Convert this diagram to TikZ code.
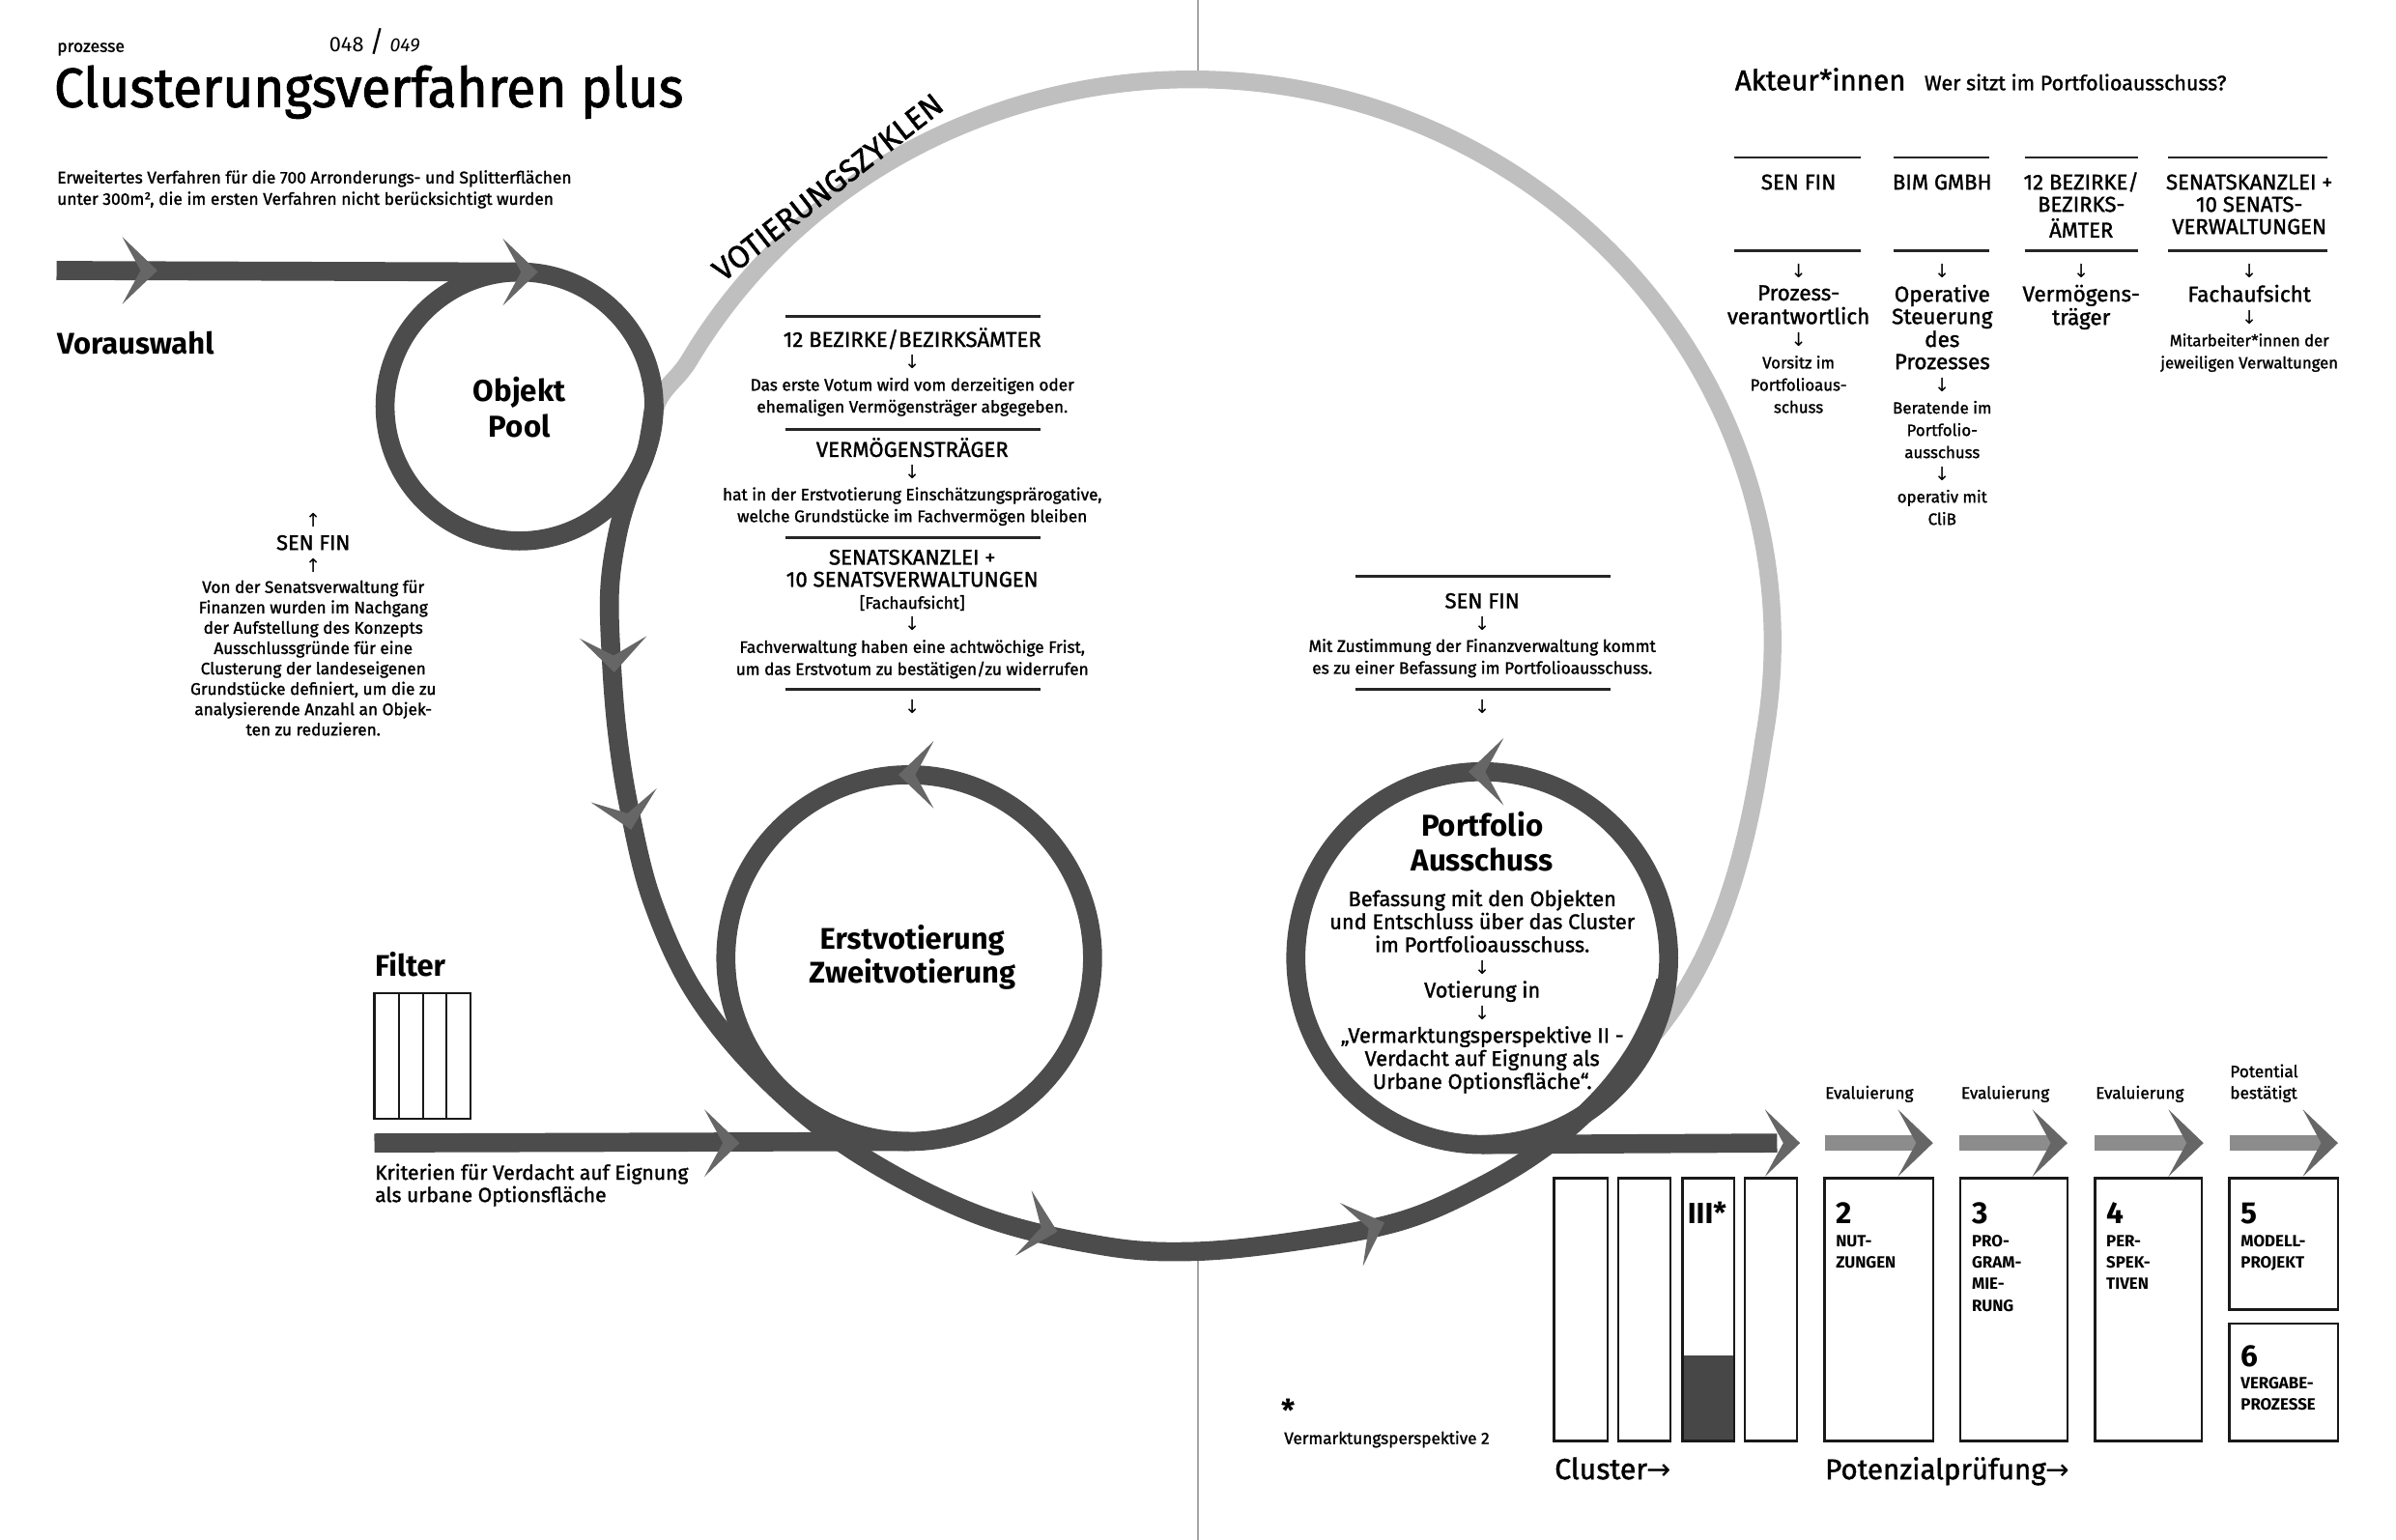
\documentclass[tikz,border=0pt]{standalone}
\usepackage{fontspec}
\setmainfont{Fira Sans}
\newfontfamily\fmed[FakeBold=1.4]{Fira Sans}
\newfontfamily\ftitle[FakeBold=1.6,FakeStretch=0.96]{Fira Sans}
\newfontfamily\dv{DejaVu Sans}
\usetikzlibrary{calc}
\newcommand{\fs}[2]{\fontsize{#1pt}{#2pt}\selectfont}
\newcommand{\tb}[2]{\begin{tabular}[t]{@{}#1@{}}#2\end{tabular}}
\newcommand{\dn}{{\dv\fontsize{5.5}{5.5}\selectfont ↓}}
\newcommand{\up}{{\dv\fontsize{5.5}{5.5}\selectfont ↑}}
\newcommand{\rarr}{{\dv →}}
\newcommand{\ahd}[3][ahead]{\fill[#1,shift={(#2)},rotate=#3] (0,0) -- (-23,-22) -- (-11,0) -- (-23,22) -- cycle;}
\begin{document}
\begin{tikzpicture}[x=0.015816cm,y=-0.015816cm,
  dark/.style={draw=black!70,line width=5.6pt},
  light/.style={draw=black!25,line width=5.2pt},
  ahead/.style={fill=black!60},
  sshaft/.style={draw=black!45,line width=4.4pt},
  rulel/.style={draw=black!85,line width=0.75pt},
  boxl/.style={draw=black!90,line width=0.65pt},
  gutter/.style={draw=black!35,line width=0.4pt},
  txt/.style={inner sep=0pt,anchor=base},
  txtl/.style={inner sep=0pt,anchor=base west}]
\fill[white] (0,0) rectangle (1568,1007.8);
\useasboundingbox (0,0) rectangle (1568,1007.8);
\draw[gutter] (784,0) -- (784,47);
\draw[gutter] (784,824) -- (784,1007.8);

% light ring (Votierungszyklen)
\draw[light] (428,272) to[out=84,in=239] ($(780,420)+(210:380 and 368)$)
  arc[start angle=210,end angle=370,x radius=380,y radius=368]
  .. controls (1143,560) and (1125,625) .. (1083,676);
\node[txt,rotate=38] (votz) at (546,128) {\fmed\fs{9.2}{9.2}VOTIERUNGSZYKLEN};

% dark paths
\draw[dark] (37,177) -- (340,178);
\draw[dark] (340,266) circle[radius=88];
\draw[dark] plot[smooth,tension=0.6] coordinates {(428,266) (422.7,296.1) (412,322) (404,350) (399,386) (400,430) (404,480) (412,530) (427,590) (455,650) (500,705) (560,754) (640,795) (720,815) (780,819) (850,812) (917,799) (970,776) (1012,750) (1045,721) (1068,692) (1083,663) (1090,642)};
\draw[dark] (595,627) circle[radius=120];
\draw[dark] (245,748) -- (595,747);
\draw[dark] (970,627) circle[radius=122];
\draw[dark] (970,749) -- (1163,748);

% arrowheads
\ahd{103,177}{0}
\ahd{352,178}{0}
\ahd{402,440}{-88}
\ahd{413,543}{-78}
\ahd{692,806}{-14}
\ahd{906,800}{20}
\ahd{484,748}{0}
\ahd{588,507}{180}
\ahd{961,505}{180}
\ahd{1178,748}{0}
\foreach \a/\b in {1194/1265,1282/1353,1371/1442,1459/1530}{
  \draw[sshaft] (\a,748) -- (\b-10,748);
  \ahd{\b,748}{0}
}

% cluster boxes
\fill[black!72] (1101,887) rectangle (1135,943);
\foreach \a/\b in {1017/1052,1059/1093,1101/1135,1142/1176}{
  \draw[boxl] (\a,771) rectangle (\b,943);
}
\draw[boxl] (1194,771) rectangle (1265,943);
\draw[boxl] (1283,771) rectangle (1353,943);
\draw[boxl] (1371,771) rectangle (1441,943);
\draw[boxl] (1459,771) rectangle (1530,857);
\draw[boxl] (1459,866) rectangle (1530,943);

% filter box
\draw[boxl] (245,650) rectangle (308,732);
\foreach \x in {261,277,292}{\draw[boxl] (\x,650) -- (\x,732);}

% rules
\foreach \y in {207,281,352,451}{\draw[rulel] (514,\y) -- (681,\y);}
\foreach \y in {377,451}{\draw[rulel] (887,\y) -- (1054,\y);}
\foreach \y in {103,164}{
  \draw[rulel] (1135,\y) -- (1218,\y);
  \draw[rulel] (1239,\y) -- (1302,\y);
  \draw[rulel] (1325,\y) -- (1399,\y);
  \draw[rulel] (1419,\y) -- (1523,\y);
}

% header
\node[txtl] (proz) at (37,34) {\fmed\fs{5}{6}prozesse};
\node[txtl] (pg) at (215,34) {\fs{6.2}{7}048 {\fs{8.5}{9}/} {\itshape\fs{5.6}{6}049}};
\node[txtl] (title) at (35,70) {\ftitle\fs{16.3}{18}Clusterungsverfahren plus};
\node[txtl] (sub) at (37,120) {\fmed\fs{4.95}{6.3}\tb{l}{Erweitertes Verfahren für die 700 Arronderungs- und Splitterflächen\\unter 300m², die im ersten Verfahren nicht berücksichtigt wurden}};
\node[txtl] (vor) at (37,232) {\bfseries\fs{8.8}{10}Vorauswahl};
\node[txt] (objekt) at (340,263) {\bfseries\fs{8.9}{10.4}\tb{c}{Objekt\\Pool}};

% left SEN FIN block
\node[txt] (lsen) at (205,345) {\fmed\fs{6.2}{6.7}\tb{c}{\up\\SEN FIN\\\up}};
\node[txt] (lpar) at (205,388) {\fmed\fs{4.9}{6}\tb{c}{Von der Senatsverwaltung für\\Finanzen wurden im Nachgang\\der Aufstellung des Konzepts\\Ausschlussgründe für eine\\Clusterung der landeseigenen\\Grundstücke definiert, um die zu\\analysierende Anzahl an Objek-\\ten zu reduzieren.}};

% middle block
\node[txt] (m1) at (597,227) {\fmed\fs{6.3}{6.45}\tb{c}{12 BEZIRKE/BEZIRKSÄMTER\\\dn\\{\fs{4.9}{6}Das erste Votum wird vom derzeitigen oder}\\{\fs{4.9}{6}ehemaligen Vermögensträger abgegeben.}}};
\node[txt] (m2) at (597,299) {\fmed\fs{6.3}{6.4}\tb{c}{VERMÖGENSTRÄGER\\\dn\\{\fs{4.9}{6}hat in der Erstvotierung Einschätzungsprärogative,}\\{\fs{4.9}{6}welche Grundstücke im Fachvermögen bleiben}}};
\node[txt] (m3) at (597,369.5) {\fmed\fs{6.3}{6.5}\tb{c}{SENATSKANZLEI +\\10 SENATSVERWALTUNGEN\\{\fs{4.9}{6}[Fachaufsicht]}\\\dn\\{\fs{4.9}{6}Fachverwaltung haben eine achtwöchige Frist,}\\{\fs{4.9}{6}um das Erstvotum zu bestätigen/zu widerrufen}}};
\node[txt] (m4) at (597,467) {\dn};

% portfolio block
\node[txt] (p1) at (970,398) {\fmed\fs{6.3}{6.45}\tb{c}{SEN FIN\\\dn\\{\fs{4.95}{6}Mit Zustimmung der Finanzverwaltung kommt}\\{\fs{4.95}{6}es zu einer Befassung im Portfolioausschuss.}}};
\node[txt] (p2) at (970,467) {\dn};

% circle labels
\node[txt] (erst) at (597,621) {\bfseries\fs{8.8}{10}\tb{c}{Erstvotierung\\Zweitvotierung}};
\node[txt] (port) at (970,547) {\bfseries\fs{8.9}{10.4}\tb{c}{Portfolio\\Ausschuss}};
\node[txt] (portb) at (970,593) {\fmed\fs{6.2}{6.55}\tb{c}{Befassung mit den Objekten\\und Entschluss über das Cluster\\im Portfolioausschuss.\\\dn\\Votierung in\\\dn\\„Vermarktungsperspektive II -\\Verdacht auf Eignung als\\Urbane Optionsfläche“.}};

% Akteur*innen
\node[txtl] (akt) at (1135,59) {\fmed\fs{8.4}{10}Akteur*innen};
\node[txtl] (wer) at (1259,59) {\fmed\fs{6.1}{7}Wer sitzt im Portfolioausschuss?};
\node[txt] (c1h) at (1177,124) {\fmed\fs{6.3}{6.55}\tb{c}{SEN FIN}};
\node[txt] (c2h) at (1271,124) {\fmed\fs{6.3}{6.55}\tb{c}{BIM GMBH}};
\node[txt] (c3h) at (1362,124) {\fmed\fs{6.3}{6.55}\tb{c}{12 BEZIRKE/\\BEZIRKS-\\ÄMTER}};
\node[txt] (c4h) at (1472,124) {\fmed\fs{6.3}{6.55}\tb{c}{SENATSKANZLEI +\\10 SENATS-\\VERWALTUNGEN}};
\node[txt] (c1d) at (1177,182) {\fmed\fs{6.4}{6.55}\tb{c}{\dn\\Prozess-\\verantwortlich\\\dn\\{\fs{4.8}{6}Vorsitz im}\\{\fs{4.8}{6}Portfolioaus-}\\{\fs{4.8}{6}schuss}}};
\node[txt] (c2d) at (1271,182) {\fmed\fs{6.4}{6.55}\tb{c}{\dn\\Operative\\Steuerung\\des\\Prozesses\\\dn\\{\fs{4.8}{6}Beratende im}\\{\fs{4.8}{6}Portfolio-}\\{\fs{4.8}{6}ausschuss}\\\dn\\{\fs{4.8}{6}operativ mit}\\{\fs{4.8}{6}CliB}}};
\node[txt] (c3d) at (1362,182) {\fmed\fs{6.4}{6.55}\tb{c}{\dn\\Vermögens-\\träger}};
\node[txt] (c4d) at (1472,182) {\fmed\fs{6.4}{6.55}\tb{c}{\dn\\Fachaufsicht\\\dn\\{\fs{4.75}{6}Mitarbeiter*innen der}\\{\fs{4.75}{6}jeweiligen Verwaltungen}}};

% filter
\node[txtl] (filt) at (245,639) {\bfseries\fs{8.8}{10}Filter};
\node[txtl] (krit) at (245,772) {\fmed\fs{6}{6.3}\tb{l}{Kriterien für Verdacht auf Eignung\\als urbane Optionsfläche}};

% cluster / potenzial labels
\node[txtl] (b3) at (1104,801) {\bfseries\fs{8.6}{9}III*};
\node[txtl] (n2) at (1201,801) {\bfseries\fs{9}{9}2};
\node[txtl] (t2) at (1201,816) {\bfseries\fs{4.8}{6.3}\tb{l}{NUT-\\ZUNGEN}};
\node[txtl] (n3) at (1290,801) {\bfseries\fs{9}{9}3};
\node[txtl] (t3) at (1290,816) {\bfseries\fs{4.8}{6.3}\tb{l}{PRO-\\GRAM-\\MIE-\\RUNG}};
\node[txtl] (n4) at (1378,801) {\bfseries\fs{9}{9}4};
\node[txtl] (t4) at (1378,816) {\bfseries\fs{4.8}{6.3}\tb{l}{PER-\\SPEK-\\TIVEN}};
\node[txtl] (n5) at (1466,801) {\bfseries\fs{9}{9}5};
\node[txtl] (t5) at (1466,816) {\bfseries\fs{4.8}{6.3}\tb{l}{MODELL-\\PROJEKT}};
\node[txtl] (n6) at (1466,894) {\bfseries\fs{9}{9}6};
\node[txtl] (t6) at (1466,909) {\bfseries\fs{4.8}{6.3}\tb{l}{VERGABE-\\PROZESSE}};
\node[txtl] (ev1) at (1194,719) {\fmed\fs{4.9}{6}Evaluierung};
\node[txtl] (ev2) at (1283,719) {\fmed\fs{4.9}{6}Evaluierung};
\node[txtl] (ev3) at (1371,719) {\fmed\fs{4.9}{6}Evaluierung};
\node[txtl] (pot) at (1459,705) {\fmed\fs{4.9}{6.3}\tb{l}{Potential\\bestätigt}};
\node[txtl] (clus) at (1017,968) {\fmed\fs{8.6}{10}Cluster\rarr};
\node[txtl] (potp) at (1194,968) {\fmed\fs{8.4}{10}Potenzialprüfung\rarr};
\node[inner sep=0pt] (star) at (843,923) {\bfseries\fs{9}{9}*};
\node[txtl] (vm2) at (840,945) {\fmed\fs{4.9}{6}Vermarktungsperspektive 2};
\end{tikzpicture}
\end{document}
